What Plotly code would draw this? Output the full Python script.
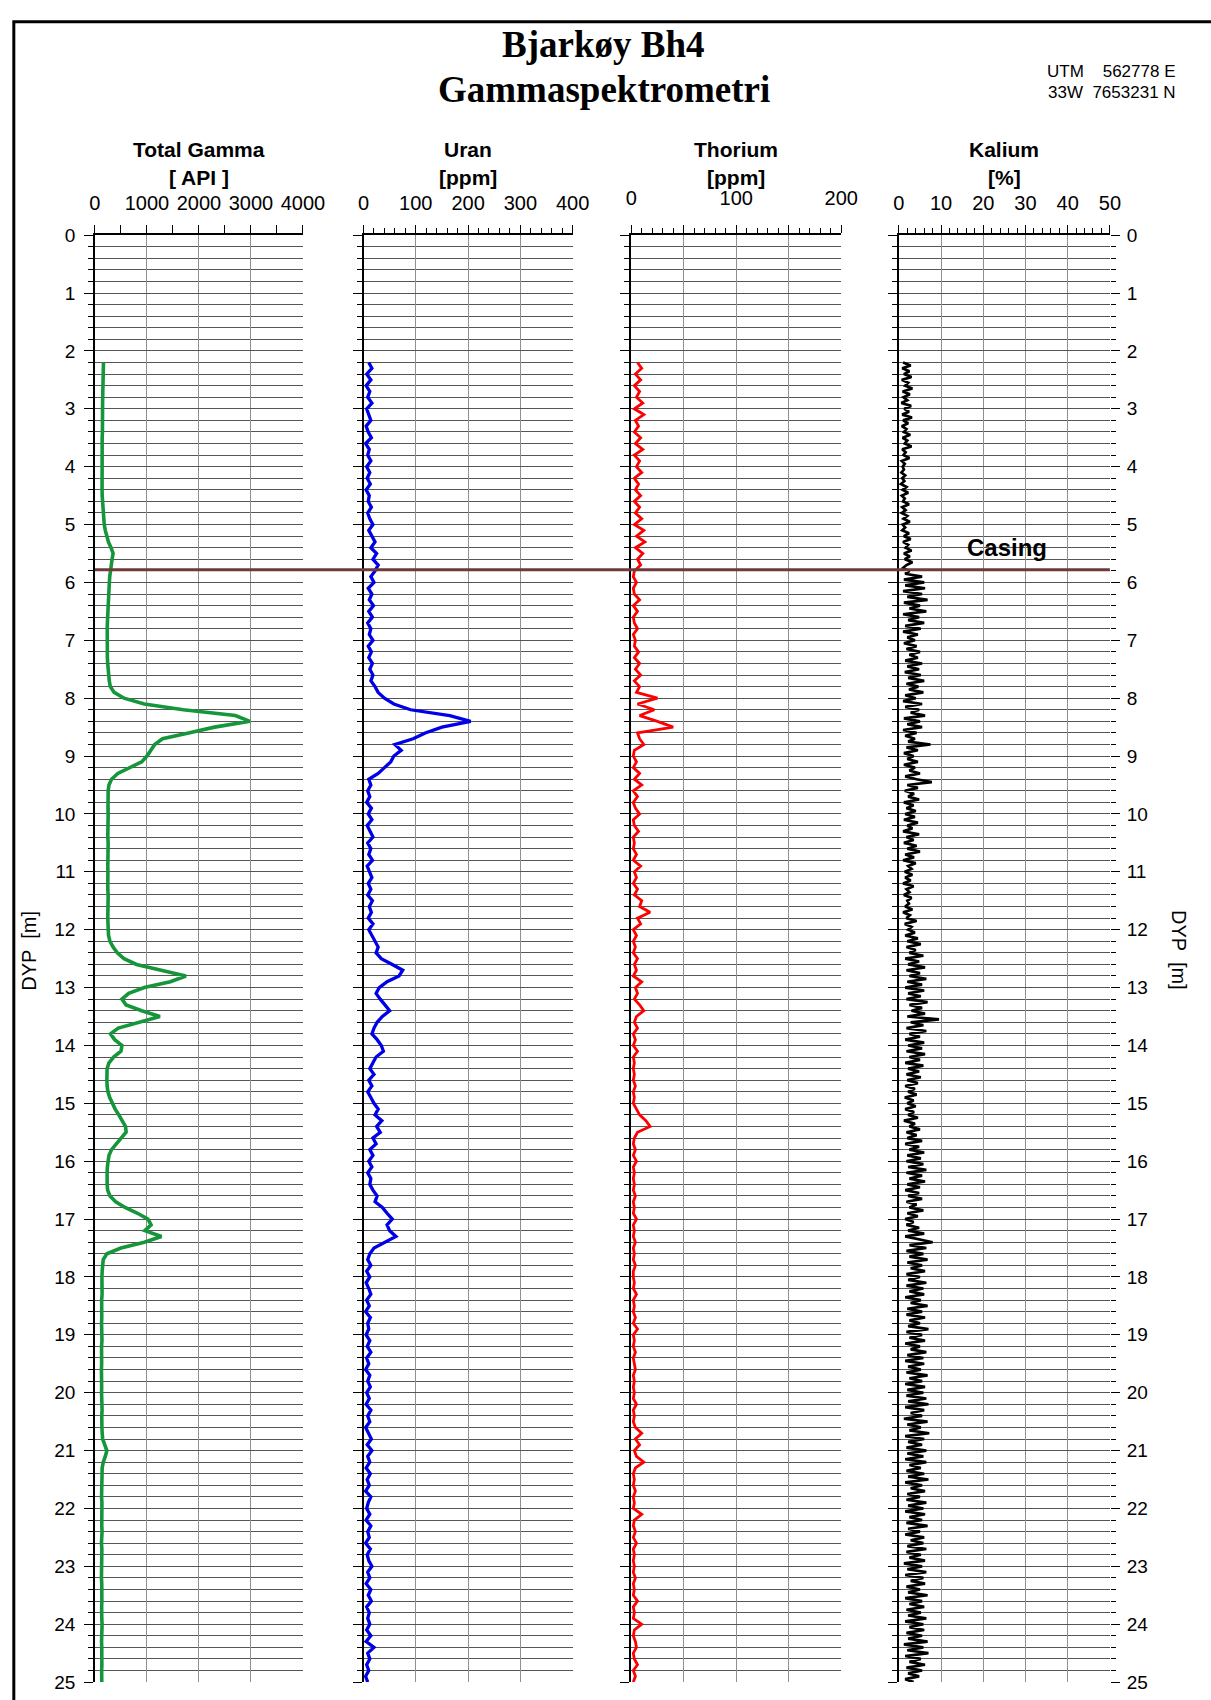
import plotly.graph_objects as go

# Logging grid: one sample every 0.1 m (Kalium every 0.05 m), starting at 2.2 m
DEPTH_START = 2.2
STEP = 0.1
STEP_K = 0.05

total_gamma_api = [
    165, 160, 158, 155, 152, 150, 150, 148,
    150, 146, 145, 142, 145, 140, 138, 140, 136, 138,
    135, 138, 134, 136, 138, 140, 145, 150, 158, 168,
    180, 200, 225, 260, 310, 350, 330, 310, 295, 285,
    278, 270, 264, 258, 252, 248, 244, 240, 237, 235,
    230, 233, 236, 240, 246, 254, 264, 276, 296, 370,
    560, 950, 1700, 2700, 2980, 2300, 1800, 1300, 1150, 1080,
    1000, 900, 680, 440, 320, 270, 255, 250, 248, 252,
    255, 250, 258, 252, 248, 255, 250, 245, 252, 248,
    250, 246, 252, 248, 255, 250, 245, 250, 248, 252,
    250, 262, 290, 350, 430, 560, 800, 1300, 1750, 1450,
    950, 650, 520, 600, 900, 1250, 850, 450, 300, 380,
    520, 500, 360, 270, 235, 225, 230, 235, 250, 285,
    330, 390, 460, 530, 590, 600, 500, 400, 320, 270,
    250, 240, 235, 232, 236, 245, 290, 400, 580, 820,
    1020, 1080, 960, 1280, 950, 500, 230, 160, 145, 140,
    135, 140, 132, 138, 130, 136, 140, 132, 128, 135,
    130, 136, 128, 134, 140, 130, 126, 132, 138, 130,
    128, 134, 130, 138, 132, 128, 135, 140, 150, 190,
    230, 200, 160, 140, 135, 130, 138, 132, 128, 135,
    130, 136, 128, 132, 138, 130, 126, 134, 130, 128,
    135, 130, 126, 132, 138, 128, 134, 130, 126, 132,
    138, 130, 134, 128, 132, 136, 128, 134, 130, 126,
    132,
]

uran_ppm = [
    10, 16, 6, 14, 5, 12, 8, 16,
    6, 10, 14, 5, 9, 15, 4, 11, 8, 14,
    6, 12, 7, 13, 5, 11, 9, 15, 8, 12,
    18, 10, 16, 22, 14, 25, 18, 28, 22, 14,
    20, 9, 16, 11, 19, 10, 17, 8, 14, 11,
    18, 9, 15, 10, 17, 12, 18, 14, 22, 28,
    40, 58, 90, 165, 205, 150, 118, 95, 60, 72,
    58, 52, 40, 28, 10, 14, 8, 12, 6, 15,
    9, 16, 7, 13, 18, 8, 14, 10, 17, 7,
    12, 16, 9, 14, 8, 17, 11, 15, 9, 18,
    10, 16, 22, 28, 24, 34, 55, 75, 68, 45,
    30, 24, 32, 42, 50, 36, 26, 20, 16, 26,
    34, 38, 24, 18, 12, 20, 10, 16, 8, 14,
    20, 28, 22, 35, 25, 32, 18, 24, 12, 18,
    10, 16, 8, 14, 12, 18, 26, 22, 36, 45,
    55, 45, 50, 62, 40, 20, 12, 8, 14, 6,
    12, 5, 10, 14, 6, 11, 4, 13, 8, 10,
    5, 12, 7, 14, 6, 10, 4, 12, 8, 13,
    6, 11, 5, 14, 8, 12, 4, 10, 15, 7,
    16, 8, 12, 5, 13, 7, 11, 4, 14, 9,
    6, 12, 5, 14, 8, 11, 4, 13, 7, 10,
    16, 8, 12, 5, 14, 9, 15, 6, 11, 8,
    12, 6, 14, 5, 20, 8, 12, 6, 10, 4,
    8,
]

thorium_ppm = [
    6, 10, 4, 9, 3, 8, 5, 11,
    3, 12, 4, 7, 3, 9, 4, 11, 3, 8,
    5, 10, 3, 7, 4, 9, 3, 8, 4, 10,
    3, 12, 5, 13, 4, 11, 6, 9, 3, 2,
    5, 2, 3, 8, 2, 6, 2, 3, 6, 2,
    4, 3, 7, 3, 8, 4, 9, 3, 8, 5,
    25, 6, 22, 8, 25, 40, 6, 8, 12, 3,
    2, 5, 2, 8, 3, 10, 2, 6, 2, 4,
    8, 2, 3, 7, 2, 3, 2, 5, 2, 9,
    3, 5, 2, 6, 3, 10, 8, 18, 6, 9,
    2, 5, 2, 4, 2, 6, 3, 5, 2, 10,
    4, 6, 3, 8, 12, 5, 3, 6, 2, 4,
    2, 6, 2, 3, 2, 3, 2, 4, 2, 3,
    2, 5, 8, 14, 18, 6, 3, 2, 4, 2,
    5, 2, 3, 2, 3, 2, 4, 2, 3, 2,
    5, 2, 3, 2, 4, 2, 3, 2, 4, 2,
    2, 3, 2, 5, 2, 3, 2, 4, 2, 6,
    2, 3, 2, 4, 2, 3, 4, 2, 3, 2,
    3, 2, 5, 2, 3, 2, 4, 10, 4, 8,
    3, 5, 12, 4, 2, 3, 2, 4, 2, 3,
    2, 10, 3, 2, 4, 2, 5, 2, 3, 2,
    3, 2, 4, 2, 3, 2, 6, 2, 3, 2,
    10, 3, 2, 4, 5, 2, 3, 6, 2, 4,
    2,
]

kalium_pct = [
    1.0, 2.8, 0.8, 2.5, 1.2, 3.0, 0.7, 2.2, 1.5, 3.2, 0.9, 2.6, 1.1, 2.0, 0.6, 2.9, 1.3,
    2.4, 0.8, 3.1, 1.0, 2.2, 0.7, 1.8, 1.2, 2.7, 0.9, 2.0, 1.4, 3.0, 0.8, 1.6, 1.1, 2.5, 0.7, 1.4, 0.9,
    1.2, 0.6, 1.5, 0.8, 1.3, 0.5, 1.8, 0.9, 2.2, 0.7, 1.4, 1.0, 2.4, 0.8, 1.6, 0.7, 2.0, 1.1, 2.6, 0.9,
    1.5, 0.8, 2.4, 1.2, 2.8, 1.0, 2.2, 1.6, 3.0, 1.2, 2.6, 1.4, 3.2, 1.8, 1.0, 2.5, 1.5, 5.5, 1.2, 6.0,
    1.5, 6.2, 1.0, 5.5, 2.0, 6.8, 1.2, 5.0, 2.5, 6.5, 1.0, 4.8, 2.2, 6.0, 1.5, 5.2, 1.0, 4.5, 2.0, 3.8,
    1.2, 4.2, 1.8, 5.0, 2.5, 4.5, 1.5, 5.5, 2.0, 4.8, 1.4, 5.2, 2.2, 6.0, 1.8, 4.6, 2.4, 5.8, 1.5, 4.0,
    1.0, 5.5, 1.5, 4.8, 2.8, 6.2, 1.2, 5.0, 2.0, 5.5, 1.0, 4.2, 1.5, 3.8, 2.2, 7.5, 1.8, 4.5, 1.2, 3.5,
    2.0, 4.5, 1.2, 3.8, 2.5, 5.0, 1.5, 4.2, 7.8, 2.0, 4.5, 1.4, 3.6, 2.2, 4.8, 1.2, 3.5, 1.8, 4.0, 1.5,
    3.8, 1.2, 4.5, 2.0, 3.2, 1.0, 4.8, 1.8, 3.5, 1.2, 4.2, 2.0, 5.0, 1.5, 3.6, 1.0, 4.0, 2.2, 3.0, 1.4,
    3.2, 1.5, 2.8, 1.0, 3.5, 1.8, 2.5, 1.2, 3.0, 2.0, 2.4, 1.5, 3.2, 1.0, 2.6, 1.8, 4.2, 1.4, 3.0, 2.2,
    3.8, 1.5, 4.5, 2.0, 5.2, 1.8, 4.0, 2.5, 5.8, 1.5, 4.8, 2.2, 6.2, 1.8, 5.0, 2.5, 6.5, 2.0, 5.5, 1.5,
    6.0, 2.2, 5.2, 1.8, 6.8, 2.5, 5.5, 3.0, 6.2, 2.0, 9.5, 2.8, 5.8, 1.8, 6.5, 2.5, 5.0, 1.5, 6.0, 2.2,
    5.5, 1.8, 6.2, 2.5, 5.0, 1.5, 5.8, 2.2, 4.8, 1.8, 5.2, 2.0, 4.5, 1.5, 3.8, 2.2, 4.2, 1.4, 3.5, 2.0,
    4.0, 1.5, 3.6, 2.2, 4.5, 1.2, 3.8, 2.5, 5.0, 1.8, 4.2, 2.0, 5.5, 1.5, 4.8, 2.5, 6.0, 2.0, 5.2, 1.8,
    5.8, 2.2, 6.5, 1.8, 5.5, 2.5, 6.2, 2.0, 5.0, 1.5, 4.8, 2.2, 5.5, 1.8, 4.2, 2.5, 5.8, 2.0, 4.5, 1.5,
    3.5, 1.8, 4.8, 2.2, 6.0, 1.5, 5.2, 8.0, 2.5, 6.5, 1.8, 5.8, 2.5, 6.8, 2.0, 5.5, 2.8, 6.2, 1.8, 5.0,
    2.2, 6.5, 1.8, 5.8, 2.5, 6.0, 1.5, 5.2, 2.8, 6.8, 2.0, 5.5, 1.8, 6.2, 2.5, 5.0, 2.2, 7.0, 1.8, 5.5,
    2.5, 6.2, 1.5, 5.0, 2.8, 6.5, 2.0, 5.8, 1.5, 6.0, 2.2, 5.2, 1.8, 6.8, 2.5, 5.5, 1.5, 6.2, 2.0, 5.8,
    1.8, 6.5, 2.2, 7.0, 1.5, 6.0, 2.8, 5.5, 1.2, 6.8, 2.0, 5.2, 2.5, 7.2, 1.5, 6.0, 2.2, 5.5, 1.8, 6.5,
    2.0, 5.8, 1.5, 6.5, 2.5, 5.2, 1.8, 6.0, 2.2, 7.0, 1.5, 5.5, 2.8, 6.2, 2.0, 5.0, 1.8, 6.5, 2.2, 5.8,
    1.5, 6.2, 2.5, 5.5, 1.8, 6.8, 2.2, 5.0, 1.5, 6.0, 2.8, 5.8, 2.0, 6.5, 1.8, 5.2, 2.5, 6.2, 1.2, 5.5,
    2.0, 6.5, 1.5, 5.8, 2.8, 6.2, 1.8, 5.0, 2.2, 6.8, 1.5, 5.5, 2.5, 6.0, 1.8, 5.2, 2.2, 6.5, 1.5, 5.8,
    2.5, 6.0, 1.8, 5.5, 2.2, 6.8, 1.2, 5.8, 2.0, 7.0, 1.5, 5.2, 2.5, 6.2, 1.8, 5.5, 2.2, 4.8, 1.5, 3.5,
]

CASING_DEPTH = 5.78
DEPTH_MAX = 25

depth = [round(DEPTH_START + STEP * i, 3) for i in range(len(total_gamma_api))]
depth_k = [round(DEPTH_START + STEP_K * i, 3) for i in range(len(kalium_pct))]

W, H = 1211, 1700


def px(x):
    return x / W


def py(y):
    return 1 - y / H


FONT = "Liberation Sans, Arial, sans-serif"
SERIF = "Liberation Serif, Times New Roman, serif"
GRID_V = "#8f8f8f"
GRID_H = "#555555"

# panel left/right edges in pixels and value scales
panels = [
    dict(x0=91, x1=304, rng=[0, 4000], minor=500, minorlen=8,
         tickvals=[0, 1000, 2000, 3000, 4000], ticktext=["0", "1000", "2000", "3000", "4000"]),
    dict(x0=366, x1=580, rng=[0, 400], minor=20, minorlen=5,
         tickvals=[0, 100, 200, 300, 400], ticktext=["0", "100", "200", "300", "400"]),
    dict(x0=640, x1=855, rng=[0, 200], minor=10, minorlen=5,
         tickvals=[0, 50, 100, 150, 200], ticktext=["0", "", "100", "", "200"]),
    dict(x0=914, x1=1130, rng=[0, 50], minor=2, minorlen=5,
         tickvals=[0, 10, 20, 30, 40, 50], ticktext=["0", "10", "20", "30", "40", "50"]),
]

Y_TOP, Y_BOT = 228, 1693
ydom = [py(Y_BOT), py(Y_TOP)]

fig = go.Figure()

series = [
    (total_gamma_api, depth, "#16963a", 3.6),
    (uran_ppm, depth, "#0000e8", 3.3),
    (thorium_ppm, depth, "#ff0000", 2.8),
    (kalium_pct, depth_k, "#000000", 2.7),
]
for i, (vals, dep, col, lw) in enumerate(series, start=1):
    fig.add_trace(go.Scatter(
        x=vals, y=dep, mode="lines", line=dict(color=col, width=lw),
        xaxis=f"x{i}", yaxis=f"y{i}", hoverinfo="skip", showlegend=False,
    ))

# right-hand depth scale of the Kalium track
fig.add_trace(go.Scatter(x=[], y=[], xaxis="x4", yaxis="y5",
                         hoverinfo="skip", showlegend=False))

layout = dict(
    width=W, height=H, margin=dict(l=0, r=0, t=0, b=0),
    paper_bgcolor="white", plot_bgcolor="white", showlegend=False,
    font=dict(family=FONT, color="black"),
)

for i, p in enumerate(panels, start=1):
    layout[f"xaxis{i}"] = dict(
        domain=[px(p["x0"]), px(p["x1"])], range=p["rng"], side="top",
        anchor=f"y{i}", showline=True, linecolor="black", linewidth=1.5,
        tickmode="array", tickvals=p["tickvals"], ticktext=p["ticktext"],
        ticks="outside", ticklen=8, tickwidth=1.3, tickcolor="black",
        tickfont=dict(size=20, family=FONT, color="black"),
        ticklabelstandoff=7 if i != 3 else 12,
        ticklabeloverflow="allow",
        showgrid=True, gridcolor=GRID_V, gridwidth=1, zeroline=False,
        minor=dict(dtick=p["minor"], tick0=0, ticks="outside", ticklen=p["minorlen"],
                   tickwidth=1.2, tickcolor="black", showgrid=False),
        fixedrange=True,
    )
    layout[f"yaxis{i}"] = dict(
        domain=ydom, range=[DEPTH_MAX, 0], anchor=f"x{i}",
        showline=True, linecolor="black", linewidth=1.5,
        tickmode="linear", tick0=0, dtick=1,
        ticks="outside", ticklen=9, tickwidth=1.3, tickcolor="black",
        showticklabels=(i == 1), tickfont=dict(size=19, family=FONT, color="black"),
        ticklabelstandoff=5, ticklabeloverflow="allow",
        showgrid=True, gridcolor=GRID_H, gridwidth=1.2, zeroline=False,
        minor=dict(dtick=0.2, tick0=0, ticks="outside", ticklen=5, tickwidth=1.2,
                   tickcolor="black", showgrid=True, gridcolor=GRID_H, gridwidth=1.2),
        fixedrange=True,
    )

layout["yaxis5"] = dict(
    domain=ydom, range=[DEPTH_MAX, 0], anchor="x4", overlaying="y4", side="right",
    showline=False, tickmode="linear", tick0=0, dtick=1,
    ticks="outside", ticklen=9, tickwidth=1.3, tickcolor="black",
    showticklabels=True, tickfont=dict(size=19, family=FONT, color="black"),
    ticklabelstandoff=3, ticklabeloverflow="allow", showgrid=False, zeroline=False,
    minor=dict(dtick=0.2, tick0=0, ticks="outside", ticklen=5, tickwidth=1.2,
               tickcolor="black", showgrid=False),
    fixedrange=True,
)

fig.update_layout(**layout)

# outer frame and casing shoe
fig.add_shape(type="rect", xref="paper", yref="paper",
              x0=px(8), x1=px(1250), y0=py(1730), y1=py(12),
              line=dict(color="black", width=3), fillcolor="rgba(0,0,0,0)")
fig.add_shape(type="line", xref="paper", yref="y",
              x0=px(91), x1=px(1130), y0=CASING_DEPTH, y1=CASING_DEPTH,
              line=dict(color="#6e3a3a", width=3))

ann = []


def text(x, y, s, size, bold=False, family=FONT, xanchor="center", angle=0):
    ann.append(dict(
        x=px(x), y=py(y), xref="paper", yref="paper", text=f"<b>{s}</b>" if bold else s,
        showarrow=False, xanchor=xanchor, yanchor="middle", textangle=angle,
        font=dict(size=size, family=family, color="black"),
    ))


text(612, 35, "Bjarkøy Bh4", 37, bold=True, family=SERIF)
text(612, 80, "Gammaspektrometri", 37, bold=True, family=SERIF)
text(1200, 62, "UTM\u00a0\u00a0\u00a0\u00a0562778 E", 17, xanchor="right")
text(1200, 84, "33W\u00a0\u00a07653231 N", 17, xanchor="right")

headers = [("Total Gamma", "[ API ]"), ("Uran", "[ppm]"), ("Thorium", "[ppm]"), ("Kalium", "[%]")]
for p, (h1, h2) in zip(panels, headers):
    cx = (p["x0"] + p["x1"]) / 2
    text(cx, 141, h1, 21, bold=True)
    text(cx, 170, h2, 21, bold=True)

text(1025, 544, "Casing", 24, bold=True)
text(24, 952, "DYP  [m]", 20, angle=-90)
text(1201, 952, "DYP  [m]", 20, angle=90)

fig.update_layout(annotations=ann)

fig.write_html("out.html")
